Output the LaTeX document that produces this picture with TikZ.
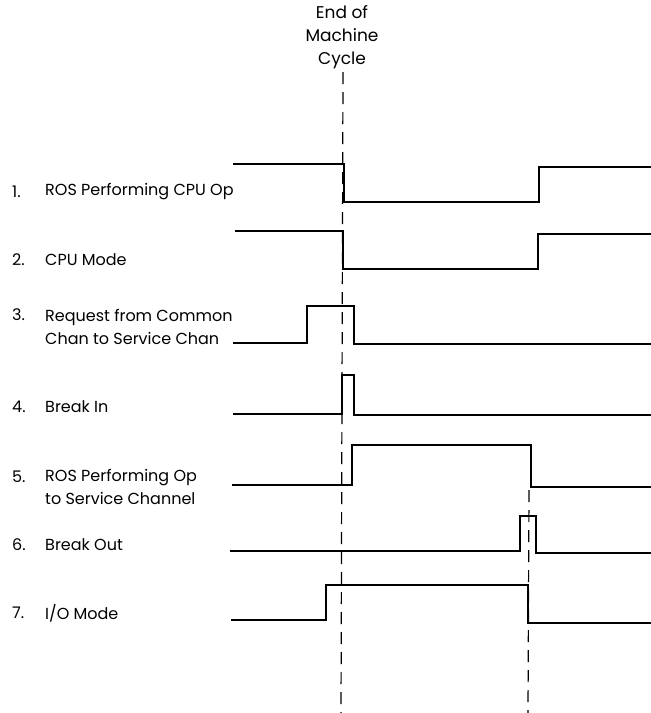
\documentclass[tikz,border=0pt]{standalone}
\usepackage{fontspec}
\setmainfont{Poppins}
\usetikzlibrary{positioning,calc}

\begin{document}
\begin{tikzpicture}[
    x=1pt, y=-1pt,
    every node/.style={font=\fontsize{16}{23}\selectfont},
    num/.style={anchor=west, inner sep=0pt},
    lbl/.style={anchor=west, inner sep=0pt, align=left},
    sig/.style={line width=1.8pt, line join=miter},
    cycmark/.style={line width=1.2pt, dash pattern=on 12pt off 8pt}
]
    \useasboundingbox (0,0) rectangle (651,713);

    % Heading
    \node[align=center, inner sep=0pt, font=\fontsize{17}{23}\selectfont] (cyc) at (342,37) {End of\\Machine\\Cycle};

    % Signal names
    \node[num] (n1) at (12,192) {1.};
    \node[lbl] (l1) at (45,192) {ROS Performing CPU Op};
    \node[num] (n2) at (12,260) {2.};
    \node[lbl] (l2) at (45,260) {CPU Mode};
    \node[num] (n3) at (12,315) {3.};
    \node[lbl] (l3) at (45,326.5) {Request from Common\\Chan to Service Chan};
    \node[num] (n4) at (12,407) {4.};
    \node[lbl] (l4) at (45,407) {Break In};
    \node[num] (n5) at (12,477) {5.};
    \node[lbl] (l5) at (45,487) {ROS Performing Op\\to Service Channel};
    \node[num] (n6) at (12,545) {6.};
    \node[lbl] (l6) at (45,545) {Break Out};
    \node[num] (n7) at (12,613) {7.};
    \node[lbl] (l7) at (45,613) {I/O Mode};

    % Waveforms
    \draw[sig] (233,164) -- (344,164) -- (344,202) -- (539,202) -- (539,167) -- (651,167);
    \draw[sig] (235,231) -- (343,231) -- (343,269) -- (538,269) -- (538,234) -- (651,234);
    \draw[sig] (233,343) -- (307,343) -- (307,306) -- (354,306) -- (354,344) -- (651,344);
    \draw[sig] (233,414) -- (342,414) -- (342,375) -- (354,375) -- (354,415) -- (651,415);
    \draw[sig] (232,485) -- (352,485) -- (352,445) -- (531,445) -- (531,487) -- (651,487);
    \draw[sig] (230,551) -- (520,551) -- (520,516) -- (536,516) -- (536,553) -- (651,553);
    \draw[sig] (231,620) -- (326,620) -- (326,585) -- (528,585) -- (528,623) -- (651,623);

    % Timing marks
    \coordinate (t1) at (343,72);
    \coordinate (b1) at (341,713);
    \coordinate (t2) at (529,490);
    \coordinate (b2) at (528,713);
    \draw[cycmark] (t1) -- (b1);
    \draw[cycmark] (t2) -- (b2);

\end{tikzpicture}
\end{document}
